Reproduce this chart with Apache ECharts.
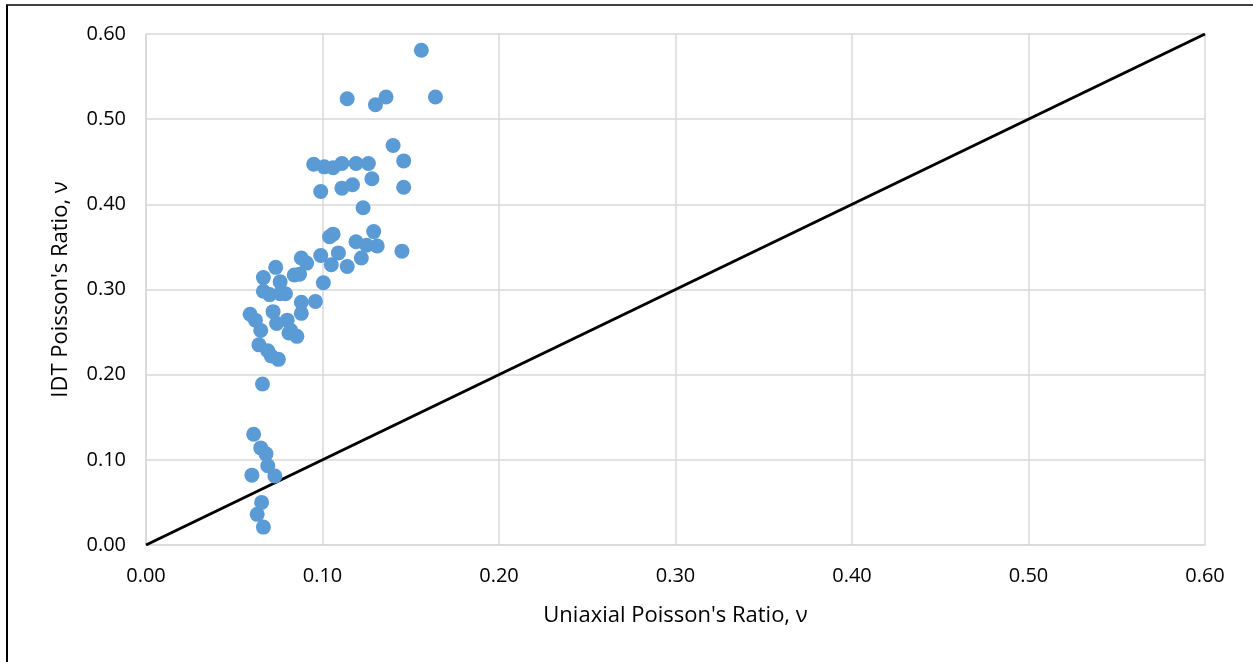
<!DOCTYPE html>
<html>
<head>
<meta charset="utf-8">
<script src="https://cdn.jsdelivr.net/npm/echarts@6/dist/echarts.min.js"></script>
<style>
html,body{margin:0;padding:0;background:#fff;}
#chart{width:1253px;height:662px;}
</style>
</head>
<body>
<div id="chart"></div>
<script>
const uniaxial = [
  0.156,0.114,0.130,0.136,0.164,0.140,0.146,0.095,0.101,0.106,0.111,0.119,0.126,0.099,0.111,0.117,0.128,0.146,0.123,
  0.129,0.104,0.106,0.119,0.125,0.131,0.145,0.109,0.099,0.088,0.091,0.122,0.105,0.114,0.0735,0.0665,0.084,0.087,0.076,0.1005,
  0.0665,0.070,0.079,0.076,0.088,0.096,0.072,0.088,0.059,0.062,0.074,0.080,0.082,0.065,0.081,0.0855,0.064,0.069,0.071,0.075,0.066,
  0.061,0.065,0.068,0.069,0.073,0.060,0.0655,0.063,0.0665
];
const idt = [
  0.581,0.524,0.517,0.526,0.526,0.469,0.451,0.447,0.444,0.443,0.448,0.448,0.448,0.415,0.419,0.423,0.430,0.420,0.396,
  0.368,0.362,0.365,0.356,0.352,0.351,0.345,0.343,0.340,0.337,0.331,0.337,0.329,0.327,0.326,0.314,0.317,0.318,0.309,0.308,
  0.298,0.294,0.295,0.295,0.285,0.286,0.274,0.272,0.271,0.264,0.260,0.264,0.252,0.252,0.249,0.245,0.235,0.228,0.222,0.218,0.189,
  0.130,0.114,0.107,0.093,0.081,0.082,0.050,0.036,0.021
];
const lineX = [0, 0.6];
const lineY = [0, 0.6];
const xTitle = "Uniaxial Poisson's Ratio, ν";
const yTitle = "IDT Poisson's Ratio, ν";

const chart = echarts.init(document.getElementById('chart'));
const fontFam = "'Open Sans', 'Liberation Sans', sans-serif";
chart.setOption({
  animation: false,
  backgroundColor: '#fff',
  grid: {left: 146, right: 48, top: 34, bottom: 117},
  xAxis: {
    type: 'value', min: 0, max: 0.6, interval: 0.1,
    name: xTitle, nameLocation: 'middle', nameGap: 60,
    nameTextStyle: {fontSize: 22, color: '#000', fontFamily: fontFam},
    axisLine: {show: true, lineStyle: {color: '#d9d9d9', width: 1.5}},
    axisTick: {show: false},
    axisLabel: {fontSize: 20, color: '#000', fontFamily: fontFam, margin: 21, formatter: v => v.toFixed(2)},
    splitLine: {show: true, lineStyle: {color: '#d9d9d9', width: 1.5}}
  },
  yAxis: {
    type: 'value', min: 0, max: 0.6, interval: 0.1,
    name: yTitle, nameLocation: 'middle', nameGap: 74,
    nameTextStyle: {fontSize: 22, color: '#000', fontFamily: fontFam},
    axisLine: {show: true, lineStyle: {color: '#d9d9d9', width: 1.5}},
    axisTick: {show: false},
    axisLabel: {fontSize: 20, color: '#000', fontFamily: fontFam, margin: 20, formatter: v => v.toFixed(2)},
    splitLine: {show: true, lineStyle: {color: '#d9d9d9', width: 1.5}}
  },
  series: [
    {
      type: 'line',
      data: lineX.map((x, i) => [x, lineY[i]]),
      showSymbol: false, symbol: 'none',
      lineStyle: {color: '#000', width: 3},
      z: 1
    },
    {
      type: 'scatter',
      data: uniaxial.map((x, i) => [x, idt[i]]),
      symbolSize: 15,
      itemStyle: {color: '#5b9bd5', opacity: 1},
      z: 3
    }
  ],
  graphic: [
    {type: 'line', shape: {x1: 6, y1: 5, x2: 1253, y2: 5}, style: {stroke: '#000', lineWidth: 1.5}},
    {type: 'line', shape: {x1: 7, y1: 5, x2: 7, y2: 662}, style: {stroke: '#000', lineWidth: 2}}
  ]
});
</script>
</body>
</html>
